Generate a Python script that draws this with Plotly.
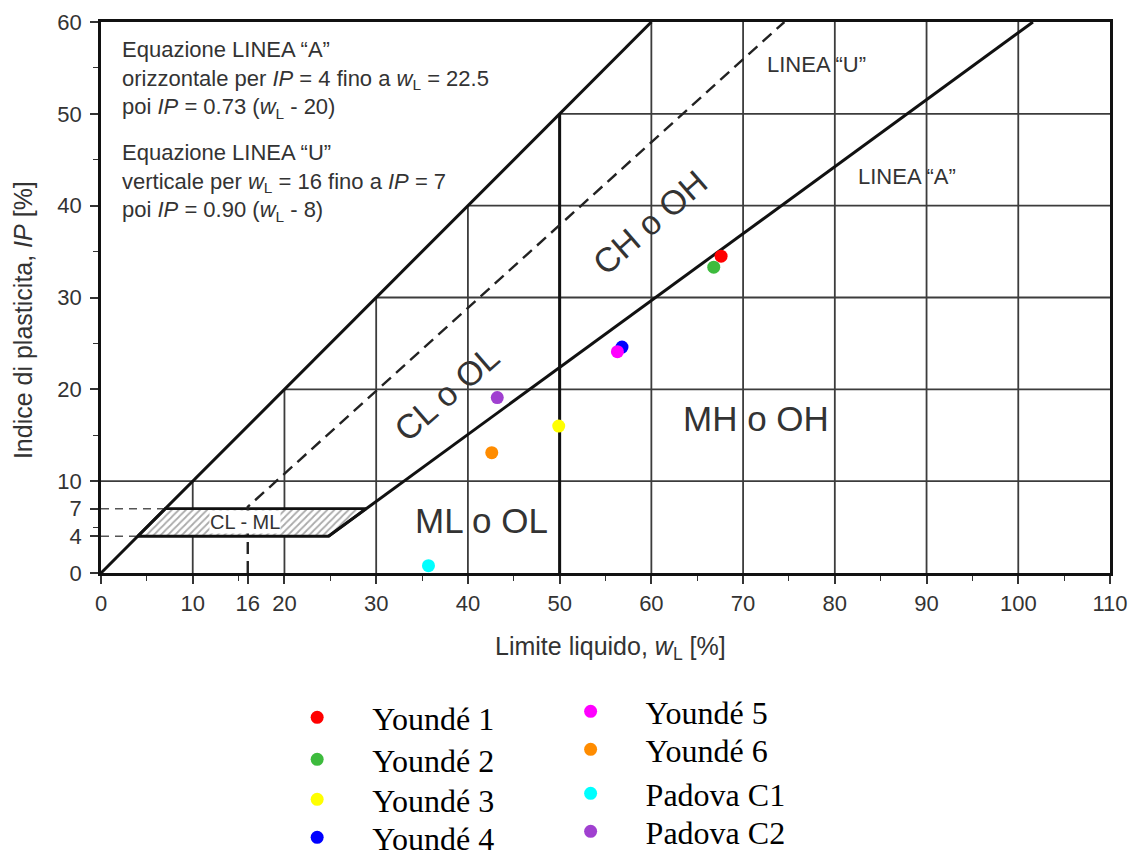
import plotly.graph_objects as go

# --- soil samples (liquid limit wL, plasticity index IP) ---
SAMPLES = ["Youndé 1", "Youndé 2", "Youndé 3", "Youndé 4",
           "Youndé 5", "Youndé 6", "Padova C1", "Padova C2"]
WL = [67.6, 66.8, 49.9, 56.8, 56.3, 42.6, 35.7, 43.2]
IP = [34.5, 33.3, 16.0, 24.6, 24.1, 13.1, 0.8, 19.1]
COLORS = ["#ff0000", "#3dbb3d", "#ffff00", "#0000ff",
          "#ff00ff", "#ff8c00", "#00ffff", "#a040d0"]

# legend entries: two columns of four, each entry in its own legend box
LEGEND_COL_X = [0.232, 0.232, 0.232, 0.232, 0.474, 0.474, 0.474, 0.474]
LEGEND_ROW_PX = [718, 760, 800, 838, 712, 750, 794, 832]

# --- Casagrande chart boundaries ---
LIMIT_WL, LIMIT_IP = [0, 60], [0, 60]            # IP = wL upper limit
A_WL, A_IP = [24.8, 101.6], [4, 60]              # LINEA "A"
U_WL, U_IP = [16, 16, 74.5], [0, 7.2, 60]        # LINEA "U"
SPLIT_WL, SPLIT_IP = [50, 50], [0, 50]           # wL = 50 divide
CLML_WL = [4, 24.8, 28.9, 7, 4]                  # CL-ML zone
CLML_IP = [4, 4, 7, 7, 4]
REF4_WL, REF4_IP = [0, 4], [4, 4]
REF7_WL, REF7_IP = [0, 7], [7, 7]

X_TICKS = [0, 10, 16, 20, 30, 40, 50, 60, 70, 80, 90, 100, 110]
Y_TICKS = [0, 4, 7, 10, 20, 30, 40, 50, 60]
GRID_X = [10, 20, 30, 40, 50, 60, 70, 80, 90, 100]
GRID_Y = [10, 20, 30, 40, 50]
X_MAX, Y_MAX = 110, 60

INK = "#111111"
GRID = "#3c3c3c"
TEXT = "#333333"
SANS = "Liberation Sans, Arial, sans-serif"
SERIF = "Liberation Serif, Times New Roman, serif"
FIG_W, FIG_H = 1130, 852

fig = go.Figure()

# grid, clipped at the IP = wL limit line
shapes = []
for gx in GRID_X:
    shapes.append(dict(type="line", xref="x", yref="y", layer="below",
                       x0=gx, x1=gx, y0=0, y1=min(gx, Y_MAX),
                       line=dict(color=GRID, width=1.8)))
for gy in GRID_Y:
    start = 0 if gy == 10 else gy
    shapes.append(dict(type="line", xref="x", yref="y", layer="below",
                       x0=start, x1=X_MAX, y0=gy, y1=gy,
                       line=dict(color=GRID, width=1.8)))
fig.update_layout(shapes=shapes)

# hatched CL-ML zone
fig.add_trace(go.Scatter(
    x=CLML_WL, y=CLML_IP, mode="lines", fill="toself",
    fillcolor="white",
    fillpattern=dict(shape="/", fgcolor="#555555", bgcolor="white",
                     size=5, solidity=0.35),
    line=dict(color=INK, width=2.8), showlegend=False, hoverinfo="skip"))

def boundary(x, y, width=3.0, dash=None, color=INK):
    fig.add_trace(go.Scatter(
        x=x, y=y, mode="lines", showlegend=False, hoverinfo="skip",
        line=dict(color=color, width=width, dash=dash)))

boundary(REF4_WL, REF4_IP, width=1.6, dash="8px,6px", color="#555555")
boundary(REF7_WL, REF7_IP, width=1.6, dash="8px,6px", color="#555555")
boundary(LIMIT_WL, LIMIT_IP)
boundary(A_WL, A_IP)
boundary(SPLIT_WL, SPLIT_IP)
boundary(U_WL, U_IP, width=2.4, dash="12px,7px", color="#222222")

# samples
legend_boxes = {}
for i, (name, wl, ip, col) in enumerate(zip(SAMPLES, WL, IP, COLORS)):
    key = "legend" if i == 0 else f"legend{i + 1}"
    fig.add_trace(go.Scatter(
        x=[wl], y=[ip], mode="markers", name=name, legend=key,
        marker=dict(color=col, size=13, line=dict(width=0))))
    legend_boxes[key] = dict(
        x=LEGEND_COL_X[i], y=1 - (LEGEND_ROW_PX[i] - 28) / FIG_H,
        xref="container", yref="container", xanchor="left", yanchor="top",
        orientation="v", bgcolor="rgba(0,0,0,0)", borderwidth=0,
        itemwidth=100, font=dict(family=SERIF, size=32, color="#000000"))

ann = []
def label(x, y, text, size=22, angle=0, **kw):
    ann.append(dict(x=x, y=y, xref="x", yref="y", text=text, showarrow=False,
                    textangle=angle, font=dict(family=SANS, size=size, color=TEXT),
                    **kw))

label(2.1, 53.7,
      "Equazione LINEA “A”<br>"
      "orizzontale per <i>IP</i> = 4 fino a <i>w</i><sub>L</sub> = 22.5<br>"
      "poi <i>IP</i> = 0.73 (<i>w</i><sub>L</sub> - 20)",
      xanchor="left", align="left")
label(2.1, 42.5,
      "Equazione LINEA “U”<br>"
      "verticale per <i>w</i><sub>L</sub> = 16 fino a <i>IP</i> = 7<br>"
      "poi <i>IP</i> = 0.90 (<i>w</i><sub>L</sub> - 8)",
      xanchor="left", align="left")
label(78.0, 55.4, "LINEA “U”")
label(87.9, 43.2, "LINEA “A”")
label(59.9, 38.2, "CH o OH", size=34, angle=-41)
label(37.7, 19.6, "CL o OL", size=34, angle=-41)
label(71.4, 16.8, "MH o OH", size=35)
label(41.5, 5.7, "ML o OL", size=35)
label(15.7, 5.55, "CL - ML", size=20, bgcolor="white", borderpad=0)

# axis titles
ann.append(dict(xref="paper", yref="paper", x=0.5045, y=-0.136,
                xanchor="center", yanchor="middle",
                text="Limite liquido, <i>w</i><sub>L</sub> [%]", showarrow=False,
                font=dict(family=SANS, size=25, color=TEXT)))
ann.append(dict(xref="paper", yref="paper", x=-0.0773, y=0.459,
                xanchor="center", yanchor="middle",
                text="Indice di plasticita, <i>IP</i> [%]", showarrow=False,
                textangle=-90, font=dict(family=SANS, size=25, color=TEXT)))
fig.update_layout(annotations=ann)

axis_common = dict(
    showgrid=False, zeroline=False, showline=True, mirror=True,
    linecolor=INK, linewidth=2.5, ticks="outside", ticklen=8, tickwidth=1.6,
    tickcolor=TEXT, tickfont=dict(family=SANS, size=22, color=TEXT),
    tickmode="array", automargin=False,
    minor=dict(tickmode="linear", tick0=0, dtick=5, ticks="outside",
               ticklen=5, tickwidth=1.4, tickcolor=TEXT),
)
fig.update_xaxes(range=[0, X_MAX], tickvals=X_TICKS, ticklabelstandoff=1,
                 **axis_common)
fig.update_yaxes(range=[0, Y_MAX], tickvals=Y_TICKS, ticklabelstandoff=4,
                 **axis_common)

fig.update_layout(
    width=FIG_W, height=FIG_H,
    margin=dict(l=101, r=20, t=22, b=279, autoexpand=False),
    paper_bgcolor="white", plot_bgcolor="white",
    **legend_boxes,
)

fig.write_html("out.html")
